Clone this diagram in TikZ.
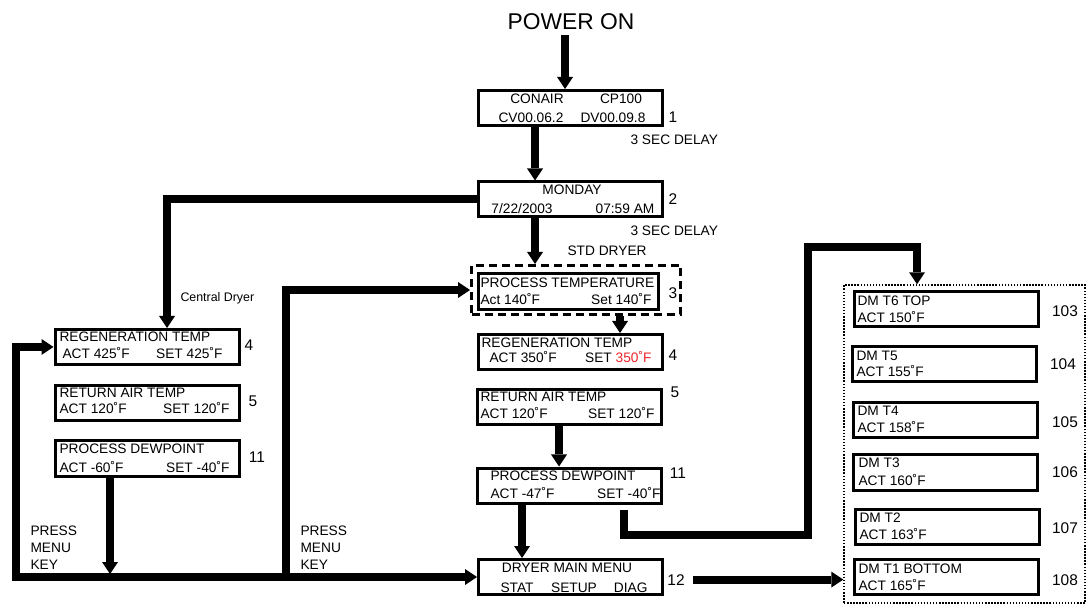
\documentclass[tikz,border=0pt]{standalone}
\usepackage{fontspec}
\setmainfont{Liberation Sans}
\usetikzlibrary{arrows.meta}
\definecolor{setred}{RGB}{237,35,40}
\tikzset{every picture/.style={line width=0.75pt}}
\tikzset{
>={Triangle[width=12pt,length=9pt,line width=0pt]},
screen/.style={draw, line width=2.25pt, minimum width=138pt, minimum height=26.25pt, inner sep=0pt},
ptframe/.style={draw, line width=2.25pt, dash pattern=on 6pt off 3.75pt, minimum width=156.75pt, minimum height=36.75pt, inner sep=0pt},
dmframe/.style={draw, line width=1.1pt, dash pattern=on 1.1pt off 1.2pt, minimum width=180.75pt, minimum height=238.5pt, inner sep=0pt},
flow/.style={line width=6pt, ->},
lcd/.style={inner sep=0pt, anchor=base west, font=\fontsize{10.3}{12.75}\selectfont},
lcdr/.style={lcd, anchor=base east},
lcdc/.style={lcd, anchor=base},
num/.style={inner sep=0pt, anchor=base, font=\fontsize{11.6}{13}\selectfont}
}

\begin{document}
\begin{tikzpicture}[x=0.75pt,y=0.75pt,yscale=-1]
\useasboundingbox (0,0) rectangle (1088,605);

% Text Node
\node[font=\fontsize{17.1}{20}\selectfont, anchor=base] (power) at (571,30) {POWER ON};

%Shape: Rectangle
\node[screen] (b1) at (570.5,108) {};
%Shape: Rectangle
\node[screen] (b2) at (570.5,199.5) {};
%Shape: Rectangle (dashed group)
\node[ptframe] (pt) at (576,290) {};
%Shape: Rectangle
\node[screen, minimum width=135pt, minimum height=27pt] (ptbox) at (568.5,291.5) {};
%Shape: Rectangle
\node[screen] (c4) at (570,352) {};
\node[screen] (c5) at (569.5,407) {};
\node[screen] (c11) at (569.5,485.5) {};
\node[screen] (c12) at (570.5,577) {};
%Shape: Rectangle
\node[screen] (l4) at (147,347) {};
\node[screen] (l5) at (147,403) {};
\node[screen] (l11) at (147,458.5) {};
%Shape: Rectangle (dotted group)
\node[dmframe] (dm) at (964.5,444) {};
\node[screen] (t6) at (946,309) {};
\node[screen] (t5) at (944,364.5) {};
\node[screen] (t4) at (945,420.5) {};
\node[screen] (t3) at (945.5,472.5) {};
\node[screen] (t2) at (947,526.5) {};
\node[screen] (t1) at (946,577) {};

% Text Node
\node[lcdc] (b1a) at (537,104) {CONAIR};
\node[lcdc] (b1b) at (621,104) {CP100};
\node[lcdc] (b1c) at (531,123) {CV00.06.2};
\node[lcdc] (b1d) at (613,123) {DV00.09.8};
\node[num] (n1) at (673,123) {1};
\node[lcd] (delay1) at (630,145) {3 SEC DELAY};
% Text Node
\node[lcdc] (b2a) at (572,195) {MONDAY};
\node[lcdc] (b2b) at (522,214) {7/22/2003};
\node[lcdc] (b2c) at (625,214) {07:59 AM};
\node[num] (n2) at (673,205) {2};
\node[lcd] (delay2) at (630,236) {3 SEC DELAY};
\node[lcd] (std) at (567,256) {STD DRYER};
% Text Node
\node[lcd] (pta) at (480,288) {PROCESS TEMPERATURE};
\node[lcd] (ptb) at (480,305) {Act 140˚F};
\node[lcdr] (ptc) at (652,305) {Set 140˚F};
\node[num] (n3) at (673,299) {3};
% Text Node
\node[lcd] (c4a) at (481,348) {REGENERATION TEMP};
\node[lcd] (c4b) at (489,363) {ACT 350˚F};
\node[lcdr] (c4c) at (652,363) {SET \textcolor{setred}{350˚F}};
\node[num] (n4) at (673,361) {4};
\node[lcd] (c5a) at (480,402) {RETURN AIR TEMP};
\node[lcd] (c5b) at (480,419) {ACT 120˚F};
\node[lcdr] (c5c) at (655,419) {SET 120˚F};
\node[num] (n5) at (675,398) {5};
\node[lcd] (c11a) at (490,480) {PROCESS DEWPOINT};
\node[lcd] (c11b) at (490,498) {ACT -47˚F};
\node[lcdr] (c11c) at (661,498) {SET -40˚F};
\node[num] (n11) at (678,479) {11};
\node[lcdc] (c12a) at (567,572) {DRYER MAIN MENU};
\node[lcd] (c12b) at (500,592) {STAT};
\node[lcdc] (c12c) at (574,592) {SETUP};
\node[lcdr] (c12d) at (648,592) {DIAG};
\node[num] (n12) at (676,585) {12};
% Text Node
\node[lcd, font=\fontsize{9.3}{11}\selectfont] (central) at (180,302) {Central Dryer};
\node[lcd] (l4a) at (59,342) {REGENERATION TEMP};
\node[lcd] (l4b) at (62,359) {ACT 425˚F};
\node[lcdr] (l4c) at (223,359) {SET 425˚F};
\node[num] (m4) at (249,351) {4};
\node[lcd] (l5a) at (59,398) {RETURN AIR TEMP};
\node[lcd] (l5b) at (59,414) {ACT 120˚F};
\node[lcdr] (l5c) at (230,414) {SET 120˚F};
\node[num] (m5) at (253,407) {5};
\node[lcd] (l11a) at (59,454) {PROCESS DEWPOINT};
\node[lcd] (l11b) at (59,473) {ACT -60˚F};
\node[lcdr] (l11c) at (230,473) {SET -40˚F};
\node[num] (m11) at (257,463) {11};
% Text Node
\node[lcd, align=left] (key1) at (30,569) {PRESS\\MENU\\KEY};
\node[lcd, align=left] (key2) at (300,569) {PRESS\\MENU\\KEY};
% Text Node
\node[lcd] (t6a) at (857,306) {DM T6 TOP};
\node[lcd] (t6b) at (857,323) {ACT 150˚F};
\node[num] (n103) at (1065,317) {103};
\node[lcd] (t5a) at (856,361) {DM T5};
\node[lcd] (t5b) at (856,377) {ACT 155˚F};
\node[num] (n104) at (1063,370) {104};
\node[lcd] (t4a) at (857,416) {DM T4};
\node[lcd] (t4b) at (857,433) {ACT 158˚F};
\node[num] (n105) at (1065,427) {105};
\node[lcd] (t3a) at (858,468) {DM T3};
\node[lcd] (t3b) at (858,485) {ACT 160˚F};
\node[num] (n106) at (1065,478) {106};
\node[lcd] (t2a) at (859,522) {DM T2};
\node[lcd] (t2b) at (859,539) {ACT 163˚F};
\node[num] (n107) at (1065,533) {107};
\node[lcd] (t1a) at (858,573) {DM T1 BOTTOM};
\node[lcd] (t1b) at (858,590) {ACT 165˚F};
\node[num] (n108) at (1065,585) {108};

%Straight Lines
\draw[flow] (power.south -| 565,0) -- (b1.north -| 565,0);
\draw[flow] (b1.south -| 535,0) -- (b2.north -| 535,0);
\draw[flow] (b2.south -| 535,0) -- (pt.north -| 535,0);
\draw[flow] (b2.west) -| (l4.north -| 167,0);
\draw[flow] (pt.south -| 620,0) -- (c4.north -| 620,0);
\draw[flow] (c5.south -| 559,0) -- (c11.north -| 559,0);
\draw[flow] (c11.south -| 522,0) -- (c12.north -| 522,0);
\draw[flow, shorten <=3.75pt] (c11.south -| 624,0) |- (808,535) -- (808,247) -| (dm.north -| 917,0);
\draw[flow] ([xshift=6pt]n12.east) -- (n12 -| dm.west);
%Straight Lines (menu key loop)
\coordinate (bl) at (16,577);
\draw[line width=6pt, <->] (l4.west) -| (bl) -- (c12.west);
\draw[flow] (bl -| 286,0) |- (pt.west);
\draw[flow, shorten >=2.25pt] (l11.south -| 110,0) -- (bl -| 110,0);

\end{tikzpicture}
\end{document}
